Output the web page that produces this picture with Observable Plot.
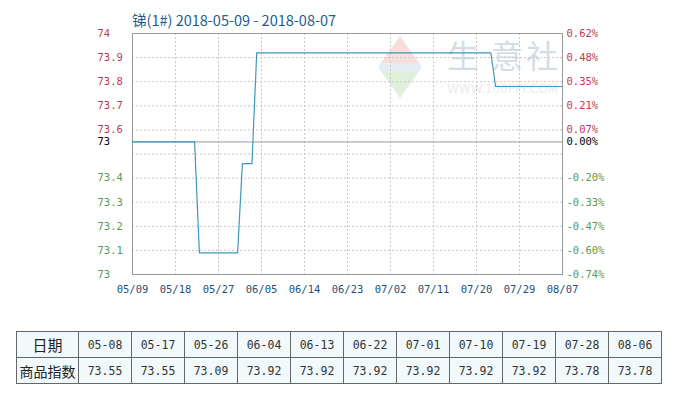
<!DOCTYPE html>
<html>
<head>
<meta charset="utf-8">
<script src="https://cdn.jsdelivr.net/npm/d3@7"></script>
<script src="https://cdn.jsdelivr.net/npm/@observablehq/plot@0.6"></script>
<style>
  html, body { margin: 0; padding: 0; background: #fff; }
  #wrap { position: relative; width: 685px; height: 395px; overflow: hidden; }
  #title { position: absolute; left: 132px; top: 9px; font: 14.5px "Noto Sans CJK SC", sans-serif; color: #1f5e8c; white-space: nowrap; z-index: 3; }
  #chart { position: absolute; left: 0; top: 0; z-index: 2; }
  .wm { position: absolute; z-index: 1; white-space: nowrap; }
  #wm-logo { left: 378px; top: 36px; width: 44px; height: 62px; clip-path: polygon(50% 0, 100% 50%, 50% 100%, 0 50%);
    background: linear-gradient(#f6dbd8 0%, #f6dbd8 44%, #e2eaf0 44%, #e2eaf0 58%, #dbeed6 58%, #dbeed6 100%); opacity: 0.9; }
  .wmc { position: absolute; z-index: 1; top: 34px; font: 32px "Noto Sans CJK SC", sans-serif; color: #d3dde7; line-height: 40px; }
  #wm-url { left: 447px; top: 82px; font: 12px "DejaVu Sans", sans-serif; color: #ebebeb; }
  table { position: absolute; left: 16px; top: 331px; border-collapse: collapse; z-index: 3; }
  td { border: 1px solid #666; background: #f1f9fc; height: 25px; padding: 0; text-align: center;
       font: 11.5px "DejaVu Sans Mono", monospace; color: #333; width: 52px; }
  td.h { width: 61px; font: 15px "Noto Sans CJK SC", sans-serif; color: #222; }
  td.h2 { font-size: 14px; }
</style>
</head>
<body>
<div id="wrap">
  <div id="title"></div>
  <div class="wm" id="wm-logo"></div>
  <div class="wmc" style="left:447px">生</div>
  <div class="wmc" style="left:491px">意</div>
  <div class="wmc" style="left:526px">社</div>
  <div class="wm" id="wm-url">WWW.100PPI.COM</div>
  <div id="chart"></div>
  <table id="tbl"></table>
</div>
<script>
// ---- data ----
const titleText = "锑(1#) 2018-05-09 - 2018-08-07";
const lineDates = ["2018-05-09", "2018-05-22", "2018-05-23", "2018-05-31", "2018-06-01", "2018-06-03", "2018-06-04", "2018-07-23", "2018-07-24", "2018-08-07"];
const lineValues = [73.55, 73.55, 73.09, 73.09, 73.46, 73.46, 73.92, 73.92, 73.78, 73.78];
const baseValue = 73.55;

const xTickDates = ["2018-05-09", "2018-05-18", "2018-05-27", "2018-06-05", "2018-06-14", "2018-06-23", "2018-07-02", "2018-07-11", "2018-07-20", "2018-07-29", "2018-08-07"];
const gridYValues = [73.1, 73.2, 73.3, 73.4, 73.5, 73.6, 73.7, 73.8, 73.9];

const upTicks = [74, 73.9, 73.8, 73.7, 73.6];
const upLabels = ["74", "73.9", "73.8", "73.7", "73.6"];
const upPctLabels = ["0.62%", "0.48%", "0.35%", "0.21%", "0.07%"];
const baseLabel = "73";
const basePctLabel = "0.00%";
const downTicks = [73.4, 73.3, 73.2, 73.1, 73.0];
const downLabels = ["73.4", "73.3", "73.2", "73.1", "73"];
const downPctLabels = ["-0.20%", "-0.33%", "-0.47%", "-0.60%", "-0.74%"];

const tableDates = ["05-08", "05-17", "05-26", "06-04", "06-13", "06-22", "07-01", "07-10", "07-19", "07-28", "08-06"];
const tableValues = ["73.55", "73.55", "73.09", "73.92", "73.92", "73.92", "73.92", "73.92", "73.92", "73.78", "73.78"];

// ---- build ----
document.getElementById("title").textContent = titleText;

const parse = d3.utcParse("%Y-%m-%d");
const series = lineDates.map((d, i) => ({date: parse(d), value: lineValues[i]}));
const xTicks = xTickDates.map(parse);

const RED = "#c03a4c", GREEN = "#5a9a55", BLACK = "#000", AXIS = "#1f4f7a";
const lab = (ticks, labels) => (v) => labels[ticks.indexOf(v)];

const leftAxis = (ticks, fmt, fill) => Plot.axisY(ticks, {
  anchor: "left", tickSize: 0, tickPadding: 35, textAnchor: "start", tickFormat: fmt, fill,
  fontSize: 10.5, fontFamily: "DejaVu Sans Mono, monospace", label: null
});
const rightAxis = (ticks, fmt, fill) => Plot.axisY(ticks, {
  anchor: "right", tickSize: 0, tickPadding: 4, textAnchor: "start", tickFormat: fmt, fill,
  fontSize: 10.5, fontFamily: "DejaVu Sans Mono, monospace", label: null
});

const chart = Plot.plot({
  width: 685,
  height: 310,
  marginTop: 33,
  marginBottom: 36,
  marginLeft: 132,
  marginRight: 123,
  style: {background: "transparent", overflow: "visible"},
  x: {type: "utc", domain: [parse("2018-05-09"), parse("2018-08-07")]},
  y: {domain: [73, 74]},
  marks: [
    Plot.gridX(xTicks, {stroke: "#c8c8c8", strokeOpacity: 1, strokeDasharray: "2,2"}),
    Plot.gridY(gridYValues, {stroke: "#c8c8c8", strokeOpacity: 1, strokeDasharray: "2,2"}),
    Plot.ruleY([baseValue], {stroke: "#999"}),
    Plot.frame({stroke: "#999"}),
    Plot.line(series, {x: "date", y: "value", stroke: "#3d97bf", strokeWidth: 1.2}),
    Plot.axisX(xTicks, {tickSize: 0, tickPadding: 11, tickFormat: d3.utcFormat("%m/%d"), fill: AXIS,
      fontSize: 10.5, fontFamily: "DejaVu Sans Mono, monospace", label: null}),
    leftAxis(upTicks, lab(upTicks, upLabels), RED),
    leftAxis([baseValue], () => baseLabel, BLACK),
    leftAxis(downTicks, lab(downTicks, downLabels), GREEN),
    rightAxis(upTicks, lab(upTicks, upPctLabels), RED),
    rightAxis([baseValue], () => basePctLabel, BLACK),
    rightAxis(downTicks, lab(downTicks, downPctLabels), GREEN)
  ]
});
document.getElementById("chart").appendChild(chart);

// table
const tbl = document.getElementById("tbl");
const r1 = tbl.insertRow(), r2 = tbl.insertRow();
let c = r1.insertCell(); c.className = "h"; c.textContent = "日期";
c = r2.insertCell(); c.className = "h h2"; c.textContent = "商品指数";
tableDates.forEach((d, i) => {
  r1.insertCell().textContent = d;
  r2.insertCell().textContent = tableValues[i];
});
</script>
</body>
</html>
